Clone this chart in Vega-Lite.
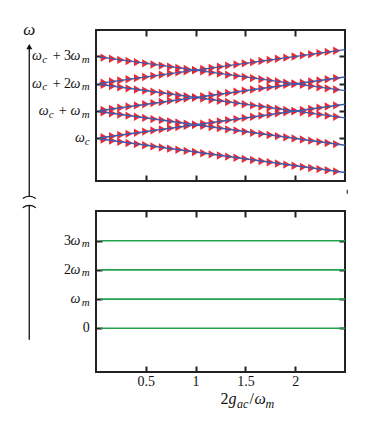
{
"$schema": "https://vega.github.io/schema/vega-lite/v6.json",
"padding": {"left": 19, "top": 20, "right": 5, "bottom": 5},
"bounds": "flush",
"spacing": 30,
"config": {
  "view": {"stroke": "#222", "strokeWidth": 2},
  "axis": {"domain": false, "grid": false, "tickColor": "#222", "tickWidth": 2, "tickSize": -6, "labelFont": "Liberation Serif, serif", "labelFontSize": 14, "labelColor": "#111", "labelPadding": 8},
  "text": {"font": "Liberation Serif, serif", "color": "#111"}
},
"datasets": {
  "pts": [
    {"x":0.083,"a":0.042,"b":-0.042,"c":1.042,"d":0.958,"e":2.042,"f":1.958,"g":2.958},
    {"x":0.167,"a":0.083,"b":-0.083,"c":1.083,"d":0.917,"e":2.083,"f":1.917,"g":2.917},
    {"x":0.25,"a":0.125,"b":-0.125,"c":1.125,"d":0.875,"e":2.125,"f":1.875,"g":2.875},
    {"x":0.333,"a":0.167,"b":-0.167,"c":1.167,"d":0.833,"e":2.167,"f":1.833,"g":2.833},
    {"x":0.417,"a":0.208,"b":-0.208,"c":1.208,"d":0.792,"e":2.208,"f":1.792,"g":2.792},
    {"x":0.5,"a":0.25,"b":-0.25,"c":1.25,"d":0.75,"e":2.25,"f":1.75,"g":2.75},
    {"x":0.583,"a":0.292,"b":-0.292,"c":1.292,"d":0.708,"e":2.292,"f":1.708,"g":2.708},
    {"x":0.667,"a":0.333,"b":-0.333,"c":1.333,"d":0.667,"e":2.333,"f":1.667,"g":2.667},
    {"x":0.75,"a":0.375,"b":-0.375,"c":1.375,"d":0.625,"e":2.375,"f":1.625,"g":2.625},
    {"x":0.833,"a":0.417,"b":-0.417,"c":1.417,"d":0.583,"e":2.417,"f":1.583,"g":2.583},
    {"x":0.917,"a":0.458,"b":-0.458,"c":1.458,"d":0.542,"e":2.458,"f":1.542,"g":2.542},
    {"x":1.0,"a":0.5,"b":-0.5,"c":1.5,"d":0.5,"e":2.5,"f":1.5,"g":2.5},
    {"x":1.083,"a":0.542,"b":-0.542,"c":1.542,"d":0.458,"e":2.542,"f":1.458,"g":2.458},
    {"x":1.167,"a":0.583,"b":-0.583,"c":1.583,"d":0.417,"e":2.583,"f":1.417,"g":2.417},
    {"x":1.25,"a":0.625,"b":-0.625,"c":1.625,"d":0.375,"e":2.625,"f":1.375,"g":2.375},
    {"x":1.333,"a":0.667,"b":-0.667,"c":1.667,"d":0.333,"e":2.667,"f":1.333,"g":2.333},
    {"x":1.417,"a":0.708,"b":-0.708,"c":1.708,"d":0.292,"e":2.708,"f":1.292,"g":2.292},
    {"x":1.5,"a":0.75,"b":-0.75,"c":1.75,"d":0.25,"e":2.75,"f":1.25,"g":2.25},
    {"x":1.583,"a":0.792,"b":-0.792,"c":1.792,"d":0.208,"e":2.792,"f":1.208,"g":2.208},
    {"x":1.667,"a":0.833,"b":-0.833,"c":1.833,"d":0.167,"e":2.833,"f":1.167,"g":2.167},
    {"x":1.75,"a":0.875,"b":-0.875,"c":1.875,"d":0.125,"e":2.875,"f":1.125,"g":2.125},
    {"x":1.833,"a":0.917,"b":-0.917,"c":1.917,"d":0.083,"e":2.917,"f":1.083,"g":2.083},
    {"x":1.917,"a":0.958,"b":-0.958,"c":1.958,"d":0.042,"e":2.958,"f":1.042,"g":2.042},
    {"x":2.0,"a":1.0,"b":-1.0,"c":2.0,"d":0.0,"e":3.0,"f":1.0,"g":2.0},
    {"x":2.083,"a":1.042,"b":-1.042,"c":2.042,"d":-0.042,"e":3.042,"f":0.958,"g":1.958},
    {"x":2.167,"a":1.083,"b":-1.083,"c":2.083,"d":-0.083,"e":3.083,"f":0.917,"g":1.917},
    {"x":2.25,"a":1.125,"b":-1.125,"c":2.125,"d":-0.125,"e":3.125,"f":0.875,"g":1.875},
    {"x":2.333,"a":1.167,"b":-1.167,"c":2.167,"d":-0.167,"e":3.167,"f":0.833,"g":1.833},
    {"x":2.417,"a":1.208,"b":-1.208,"c":2.208,"d":-0.208,"e":3.208,"f":0.792,"g":1.792}
  ],
  "lns": [
    {"x":0.03,"a":0.015,"b":-0.015,"c":1.015,"d":0.985,"e":2.015,"f":1.985,"g":2.985},
    {"x":2.5,"a":1.25,"b":-1.25,"c":2.25,"d":-0.25,"e":3.25,"f":0.75,"g":1.75}
  ],
  "gl": [
    {"x":0.045,"l0":0,"l1":1,"l2":2,"l3":3},
    {"x":2.5,"l0":0,"l1":1,"l2":2,"l3":3}
  ],
  "tl": [
    {"y":3,"p":"s0","t":"m"},{"y":2,"p":"s0","t":"m"},{"y":1,"p":"s0","t":"m"},{"y":0,"p":"s0","t":"c"},
    {"y":0,"p":"w0","t":"ω"},
    {"y":3,"p":"w1","t":"ω"},{"y":2,"p":"w1","t":"ω"},{"y":1,"p":"w1","t":"ω"},
    {"y":3,"p":"pl","t":"+ 3"},{"y":2,"p":"pl","t":"+ 2"},{"y":1,"p":"p1","t":"+"},
    {"y":3,"p":"s3","t":"c"},{"y":2,"p":"s3","t":"c"},
    {"y":3,"p":"w3","t":"ω"},{"y":2,"p":"w3","t":"ω"},
    {"y":1,"p":"s1","t":"c"},{"y":1,"p":"w2","t":"ω"}
  ],
  "bl": [
    {"y":3,"p":"s0","t":"m"},{"y":2,"p":"s0","t":"m"},{"y":1,"p":"s0","t":"m"},
    {"y":3,"p":"w1","t":"ω"},{"y":2,"p":"w1","t":"ω"},{"y":1,"p":"w1","t":"ω"},
    {"y":3,"p":"d","t":"3"},{"y":2,"p":"d","t":"2"},
    {"y":0,"p":"z","t":"0"}
  ],
  "tt": [
    {"p":"a","t":"2"},{"p":"b","t":"g"},{"p":"c","t":"ac"},{"p":"d","t":"/"},{"p":"e","t":"ω"},{"p":"f","t":"m"}
  ],
  "one": [{}]
},
"vconcat": [
 {
  "width": 249, "height": 151,
  "resolve": {"axis": {"x": "independent", "y": "independent"}},
  "layer": [
   {"data": {"name": "pts"}, "transform": [{"fold": ["a","b","c","d","e","f","g"], "as": ["s","v"]}],
    "mark": {"type": "point", "shape": "triangle-right", "filled": true, "size": 70, "color": "#e62129", "opacity": 0.95},
    "encoding": {
     "x": {"field": "x", "type": "quantitative", "scale": {"domain": [0, 2.5], "nice": false, "zero": false}, "axis": {"orient": "bottom", "values": [0.5,1,1.5,2], "labels": false, "title": null}},
     "y": {"field": "v", "type": "quantitative", "scale": {"domain": [-1.56, 3.97], "nice": false, "zero": false}, "axis": {"orient": "left", "values": [0,1,2,3], "labels": false, "title": null}}}},
   {"data": {"name": "lns"}, "transform": [{"fold": ["a","b","c","d","e","f","g"], "as": ["s","v"]}],
    "mark": {"type": "line", "color": "#3d5cb0", "strokeWidth": 1.4},
    "encoding": {
     "x": {"field": "x", "type": "quantitative", "scale": {"domain": [0, 2.5], "nice": false, "zero": false}, "axis": {"orient": "top", "values": [0.5,1,1.5,2], "labels": false, "title": null}},
     "y": {"field": "v", "type": "quantitative", "scale": {"domain": [-1.56, 3.97], "nice": false, "zero": false}, "axis": {"orient": "right", "values": [0,1,2,3], "labels": false, "title": null}},
     "detail": {"field": "s"}}},
   {"data": {"name": "tl"}, "transform": [{"filter": "datum.p === 's0'"}],
    "mark": {"type": "text", "align": "right", "baseline": "middle", "dx": -6.3, "dy": 3.5, "fontSize": 11, "fontStyle": "italic"},
    "encoding": {"x": {"datum": 0, "axis": null}, "y": {"field": "y", "type": "quantitative", "axis": null}, "text": {"field": "t"}}},
   {"data": {"name": "tl"}, "transform": [{"filter": "datum.p === 'w0'"}],
    "mark": {"type": "text", "align": "right", "baseline": "middle", "dx": -11, "fontSize": 14, "fontStyle": "italic"},
    "encoding": {"x": {"datum": 0, "axis": null}, "y": {"field": "y", "type": "quantitative", "axis": null}, "text": {"field": "t"}}},
   {"data": {"name": "tl"}, "transform": [{"filter": "datum.p === 'w1'"}],
    "mark": {"type": "text", "align": "right", "baseline": "middle", "dx": -15.5, "fontSize": 14, "fontStyle": "italic"},
    "encoding": {"x": {"datum": 0, "axis": null}, "y": {"field": "y", "type": "quantitative", "axis": null}, "text": {"field": "t"}}},
   {"data": {"name": "tl"}, "transform": [{"filter": "datum.p === 'pl'"}],
    "mark": {"type": "text", "align": "right", "baseline": "middle", "dx": -24.9, "fontSize": 14},
    "encoding": {"x": {"datum": 0, "axis": null}, "y": {"field": "y", "type": "quantitative", "axis": null}, "text": {"field": "t"}}},
   {"data": {"name": "tl"}, "transform": [{"filter": "datum.p === 'p1'"}],
    "mark": {"type": "text", "align": "right", "baseline": "middle", "dx": -29.3, "fontSize": 14},
    "encoding": {"x": {"datum": 0, "axis": null}, "y": {"field": "y", "type": "quantitative", "axis": null}, "text": {"field": "t"}}},
   {"data": {"name": "tl"}, "transform": [{"filter": "datum.p === 's3'"}],
    "mark": {"type": "text", "align": "right", "baseline": "middle", "dx": -48.8, "dy": 3.5, "fontSize": 11, "fontStyle": "italic"},
    "encoding": {"x": {"datum": 0, "axis": null}, "y": {"field": "y", "type": "quantitative", "axis": null}, "text": {"field": "t"}}},
   {"data": {"name": "tl"}, "transform": [{"filter": "datum.p === 'w3'"}],
    "mark": {"type": "text", "align": "right", "baseline": "middle", "dx": -54.2, "fontSize": 14, "fontStyle": "italic"},
    "encoding": {"x": {"datum": 0, "axis": null}, "y": {"field": "y", "type": "quantitative", "axis": null}, "text": {"field": "t"}}},
   {"data": {"name": "tl"}, "transform": [{"filter": "datum.p === 's1'"}],
    "mark": {"type": "text", "align": "right", "baseline": "middle", "dx": -42.3, "dy": 3.5, "fontSize": 11, "fontStyle": "italic"},
    "encoding": {"x": {"datum": 0, "axis": null}, "y": {"field": "y", "type": "quantitative", "axis": null}, "text": {"field": "t"}}},
   {"data": {"name": "tl"}, "transform": [{"filter": "datum.p === 'w2'"}],
    "mark": {"type": "text", "align": "right", "baseline": "middle", "dx": -47.4, "fontSize": 14, "fontStyle": "italic"},
    "encoding": {"x": {"datum": 0, "axis": null}, "y": {"field": "y", "type": "quantitative", "axis": null}, "text": {"field": "t"}}},
   {"data": {"name": "one"},
    "mark": {"type": "rule", "color": "#111", "strokeWidth": 1.3},
    "encoding": {"x": {"datum": -0.67, "axis": null}, "y": {"datum": 3.3, "axis": null}, "y2": {"datum": -2.13}}},
   {"data": {"name": "one"},
    "mark": {"type": "point", "shape": "triangle-up", "filled": true, "size": 36, "color": "#111", "opacity": 1},
    "encoding": {"x": {"datum": -0.67, "axis": null}, "y": {"datum": 3.36, "axis": null}}},
   {"data": {"name": "one"},
    "mark": {"type": "text", "text": "ω", "align": "center", "baseline": "middle", "fontSize": 17, "fontStyle": "italic"},
    "encoding": {"x": {"datum": -0.67, "axis": null}, "y": {"datum": 3.97, "axis": null}}},
   {"data": {"name": "one"},
    "mark": {"type": "point", "shape": "M-1,0.3Q0,-0.4,1,0.3", "filled": false, "size": 170, "stroke": "#111", "strokeWidth": 1.2, "opacity": 1},
    "encoding": {"x": {"datum": -0.67, "axis": null}, "y": {"datum": -2.13, "axis": null}}},
   {"data": {"name": "one"},
    "mark": {"type": "rule", "color": "#444", "strokeWidth": 1.3},
    "encoding": {"x": {"datum": 2.523, "axis": null}, "y": {"datum": -1.88, "axis": null}, "y2": {"datum": -2.03}}}
  ]
 },
 {
  "width": 249, "height": 161,
  "resolve": {"axis": {"x": "independent", "y": "independent"}},
  "layer": [
   {"data": {"name": "gl"}, "transform": [{"fold": ["l0","l1","l2","l3"], "as": ["s","v"]}],
    "mark": {"type": "line", "color": "#21a24f", "strokeWidth": 1.6},
    "encoding": {
     "x": {"field": "x", "type": "quantitative", "scale": {"domain": [0, 2.5], "nice": false, "zero": false}, "axis": {"orient": "bottom", "values": [0.5,1,1.5,2], "format": "~g", "labels": true, "title": null}},
     "y": {"field": "v", "type": "quantitative", "scale": {"domain": [-1.5, 4.02], "nice": false, "zero": false}, "axis": {"orient": "left", "values": [0,1,2,3], "labels": false, "title": null}},
     "detail": {"field": "s"}}},
   {"data": {"name": "bl"}, "transform": [{"filter": "datum.p === 's0'"}],
    "mark": {"type": "text", "align": "right", "baseline": "middle", "dx": -6.3, "dy": 3.5, "fontSize": 11, "fontStyle": "italic"},
    "encoding": {"x": {"datum": 0, "axis": {"orient": "top", "values": [0.5,1,1.5,2], "labels": false, "title": null}}, "y": {"field": "y", "type": "quantitative", "axis": {"orient": "right", "values": [0,1,2,3], "labels": false, "title": null}}, "text": {"field": "t"}}},
   {"data": {"name": "bl"}, "transform": [{"filter": "datum.p === 'w1'"}],
    "mark": {"type": "text", "align": "right", "baseline": "middle", "dx": -15.5, "fontSize": 14, "fontStyle": "italic"},
    "encoding": {"x": {"datum": 0, "axis": null}, "y": {"field": "y", "type": "quantitative", "axis": null}, "text": {"field": "t"}}},
   {"data": {"name": "bl"}, "transform": [{"filter": "datum.p === 'd'"}],
    "mark": {"type": "text", "align": "right", "baseline": "middle", "dx": -24.9, "fontSize": 14},
    "encoding": {"x": {"datum": 0, "axis": null}, "y": {"field": "y", "type": "quantitative", "axis": null}, "text": {"field": "t"}}},
   {"data": {"name": "bl"}, "transform": [{"filter": "datum.p === 'z'"}],
    "mark": {"type": "text", "align": "right", "baseline": "middle", "dx": -6.3, "fontSize": 14},
    "encoding": {"x": {"datum": 0, "axis": null}, "y": {"field": "y", "type": "quantitative", "axis": null}, "text": {"field": "t"}}},
   {"data": {"name": "one"},
    "mark": {"type": "rule", "color": "#111", "strokeWidth": 1.3},
    "encoding": {"x": {"datum": -0.67, "axis": null}, "y": {"datum": 4.2, "axis": null}, "y2": {"datum": -0.39}}},
   {"data": {"name": "one"},
    "mark": {"type": "point", "shape": "M-1,0.3Q0,-0.4,1,0.3", "filled": false, "size": 170, "stroke": "#111", "strokeWidth": 1.2, "opacity": 1},
    "encoding": {"x": {"datum": -0.67, "axis": null}, "y": {"datum": 4.2, "axis": null}}},
   {"data": {"name": "tt"}, "transform": [{"filter": "datum.p === 'a'"}],
    "mark": {"type": "text", "align": "left", "baseline": "alphabetic", "dx": 0, "fontSize": 16},
    "encoding": {"x": {"datum": 1.25, "axis": null}, "y": {"datum": -2.61, "axis": null}, "text": {"field": "t"}}},
   {"data": {"name": "tt"}, "transform": [{"filter": "datum.p === 'b'"}],
    "mark": {"type": "text", "align": "left", "baseline": "alphabetic", "dx": 8, "fontSize": 16, "fontStyle": "italic"},
    "encoding": {"x": {"datum": 1.25, "axis": null}, "y": {"datum": -2.61, "axis": null}, "text": {"field": "t"}}},
   {"data": {"name": "tt"}, "transform": [{"filter": "datum.p === 'c'"}],
    "mark": {"type": "text", "align": "left", "baseline": "alphabetic", "dx": 16.5, "dy": 3.5, "fontSize": 12, "fontStyle": "italic"},
    "encoding": {"x": {"datum": 1.25, "axis": null}, "y": {"datum": -2.61, "axis": null}, "text": {"field": "t"}}},
   {"data": {"name": "tt"}, "transform": [{"filter": "datum.p === 'd'"}],
    "mark": {"type": "text", "align": "left", "baseline": "alphabetic", "dx": 29, "fontSize": 16},
    "encoding": {"x": {"datum": 1.25, "axis": null}, "y": {"datum": -2.61, "axis": null}, "text": {"field": "t"}}},
   {"data": {"name": "tt"}, "transform": [{"filter": "datum.p === 'e'"}],
    "mark": {"type": "text", "align": "left", "baseline": "alphabetic", "dx": 34, "fontSize": 16, "fontStyle": "italic"},
    "encoding": {"x": {"datum": 1.25, "axis": null}, "y": {"datum": -2.61, "axis": null}, "text": {"field": "t"}}},
   {"data": {"name": "tt"}, "transform": [{"filter": "datum.p === 'f'"}],
    "mark": {"type": "text", "align": "left", "baseline": "alphabetic", "dx": 45, "dy": 3.5, "fontSize": 12, "fontStyle": "italic"},
    "encoding": {"x": {"datum": 1.25, "axis": null}, "y": {"datum": -2.61, "axis": null}, "text": {"field": "t"}}}
  ]
 }
]
}
